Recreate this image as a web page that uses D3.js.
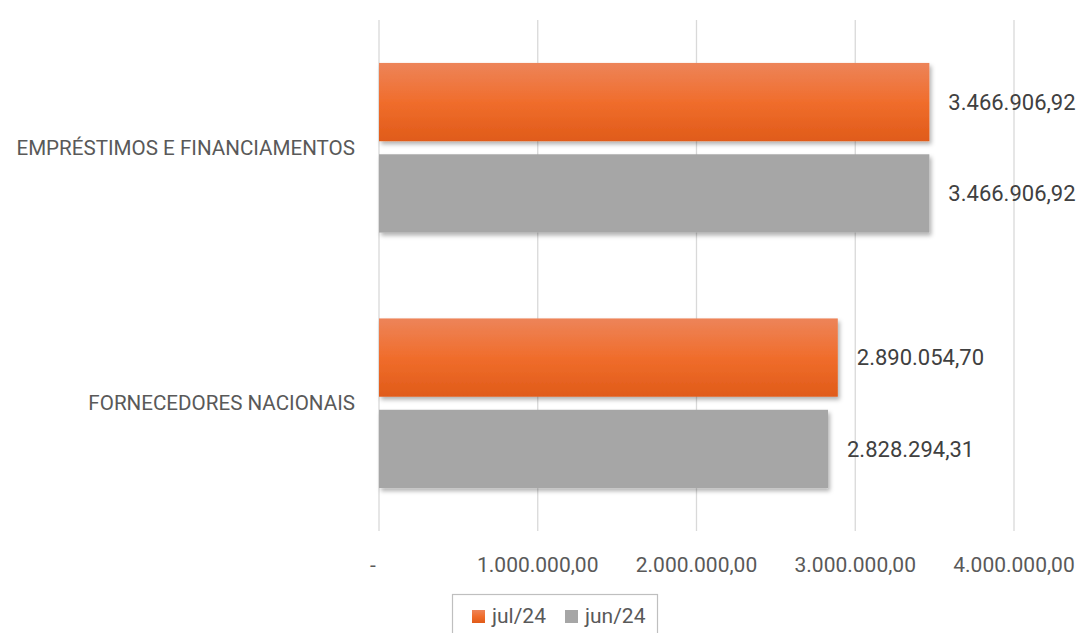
<!DOCTYPE html>
<html>
<head>
<meta charset="utf-8">
<script src="https://cdn.jsdelivr.net/npm/d3@7"></script>
<style>
  body { margin: 0; background: #fff; }
  svg { display: block; font-family: Roboto, "Liberation Sans", sans-serif; }
</style>
</head>
<body>
<div id="chart"></div>
<script>
const categories = ['EMPRÉSTIMOS E FINANCIAMENTOS', 'FORNECEDORES NACIONAIS'];
const seriesNames = ['jul/24', 'jun/24'];
const julValues = [3466906.92, 2890054.70];
const junValues = [3466906.92, 2828294.31];
const tickValues = [0, 1000000, 2000000, 3000000, 4000000];

const W = 1079, H = 633;
const M = { top: 20, right: 65, bottom: 102, left: 379 };
const iH = H - M.top - M.bottom;

const fmt = v => v === 0 ? '-' : v.toLocaleString('pt-BR', { minimumFractionDigits: 2, maximumFractionDigits: 2 });

const svg = d3.select('#chart').append('svg').attr('width', W).attr('height', H);
const defs = svg.append('defs');
const grad = defs.append('linearGradient').attr('id', 'gOr').attr('x1', 0).attr('y1', 0).attr('x2', 0).attr('y2', 1);
grad.append('stop').attr('offset', '0%').attr('stop-color', '#ED8459');
grad.append('stop').attr('offset', '50%').attr('stop-color', '#F06D2C');
grad.append('stop').attr('offset', '100%').attr('stop-color', '#E05B19');
const sh = defs.append('filter').attr('id', 'shadow').attr('x', '-5%').attr('y', '-20%').attr('width', '110%').attr('height', '150%');
sh.append('feDropShadow').attr('dx', 2).attr('dy', 3).attr('stdDeviation', 2).attr('flood-color', '#000').attr('flood-opacity', 0.3);

const g = svg.append('g').attr('transform', `translate(${M.left},${M.top})`);
const x = d3.scaleLinear().domain([0, 4000000]).range([0, 635]);
const y = d3.scaleBand().domain(categories).range([0, iH]);
const yIn = d3.scaleBand().domain(seriesNames).range([0, y.bandwidth()]).paddingInner(0.143).paddingOuter(0.47);

// gridlines
g.append('g').selectAll('line').data(tickValues).join('line')
  .attr('x1', d => x(d)).attr('x2', d => x(d))
  .attr('y1', 0).attr('y2', iH)
  .attr('stroke', '#d9d9d9').attr('stroke-width', 1.3);

// x tick labels
g.append('g').selectAll('text').data(tickValues).join('text')
  .attr('x', d => d === 0 ? x(d) - 6 : x(d))
  .attr('y', iH + 34)
  .attr('dy', '0.35em')
  .attr('text-anchor', 'middle')
  .attr('fill', '#595959').style('font-size', '21px')
  .text(fmt);

const series = [
  { name: seriesNames[0], values: julValues, fill: 'url(#gOr)' },
  { name: seriesNames[1], values: junValues, fill: '#A6A6A6' }
];

series.forEach(s => {
  const grp = g.append('g');
  grp.selectAll('rect').data(categories).join('rect')
    .attr('x', x(0))
    .attr('y', c => y(c) + yIn(s.name))
    .attr('width', (c, i) => x(s.values[i]) - x(0))
    .attr('height', yIn.bandwidth())
    .attr('fill', s.fill)
    .attr('filter', 'url(#shadow)');
  grp.selectAll('text').data(categories).join('text')
    .attr('x', (c, i) => x(s.values[i]) + 19)
    .attr('y', c => y(c) + yIn(s.name) + yIn.bandwidth() / 2)
    .attr('dy', '0.35em')
    .attr('fill', '#404040').style('font-size', '22px')
    .text((c, i) => fmt(s.values[i]));
});

// category labels
g.append('g').selectAll('text').data(categories).join('text')
  .attr('x', -24)
  .attr('y', c => y(c) + y.bandwidth() / 2)
  .attr('dy', '0.35em')
  .attr('text-anchor', 'end')
  .attr('fill', '#595959').style('font-size', '20.6px')
  .text(d => d);

// legend
const lg = svg.append('g').attr('transform', 'translate(452,594)');
lg.append('rect').attr('x', 0.5).attr('y', 0.5).attr('width', 205).attr('height', 60)
  .attr('fill', '#fff').attr('stroke', '#bfbfbf').attr('stroke-width', 1.2);
const lgOff = [20, 113];
series.forEach((s, i) => {
  lg.append('rect').attr('x', lgOff[i]).attr('y', 16).attr('width', 13).attr('height', 13).attr('fill', s.fill);
  lg.append('text').attr('x', lgOff[i] + 20).attr('y', 22).attr('dy', '0.35em')
    .attr('fill', '#595959').style('font-size', '21px').text(s.name);
});
</script>
</body>
</html>
